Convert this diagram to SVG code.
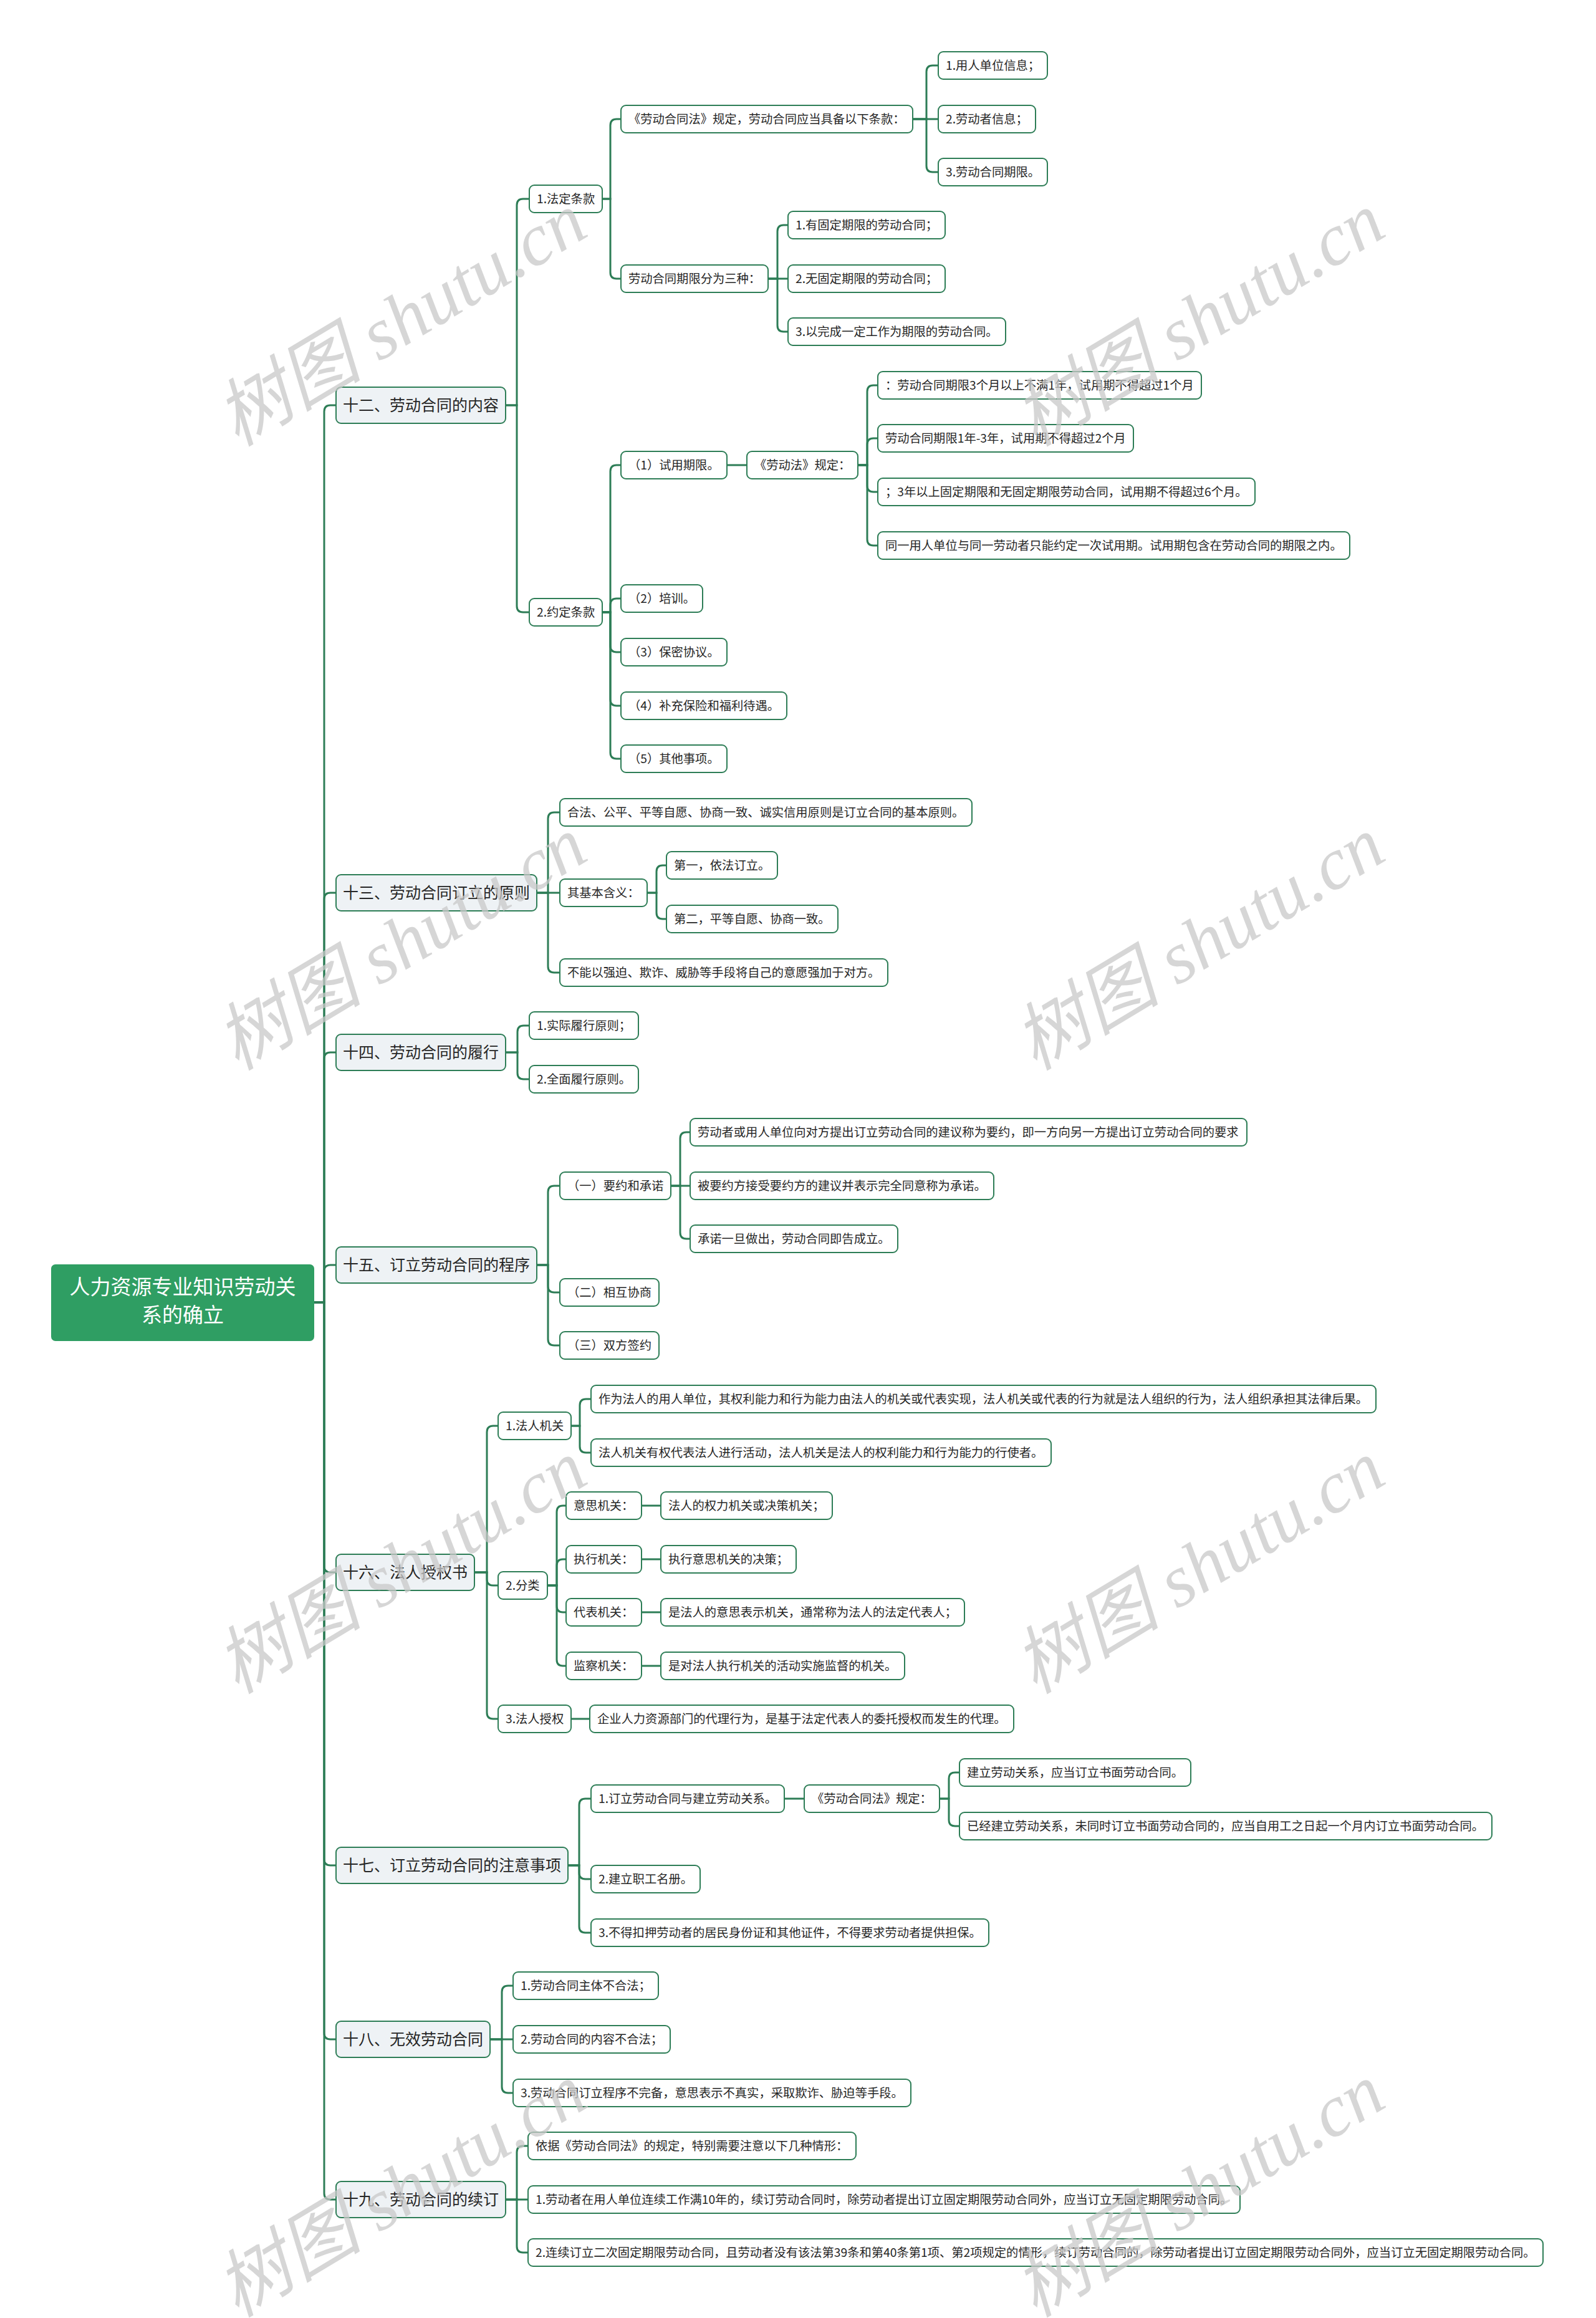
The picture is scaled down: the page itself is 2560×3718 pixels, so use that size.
<svg xmlns="http://www.w3.org/2000/svg" width="2560" height="3718" viewBox="0 0 2560 3718">
<style>
.nd rect{fill:#fff;stroke:#2d7d56;stroke-width:2}
.l1 rect{fill:#eef2f5}
.nd text{font-family:"Noto Sans CJK SC","Noto Sans",sans-serif;font-size:19.3px;fill:#262626}
.l1 text{font-size:25px}
.rt rect{fill:#2f9e63;stroke:#2f9e63;stroke-width:2}
.rt text{font-family:"Noto Sans CJK SC","Noto Sans",sans-serif;font-size:33px;fill:#fff;text-anchor:middle}
.cn path{fill:none;stroke:#2d7d56;stroke-width:3}
.wm{font-family:"Liberation Serif","Noto Sans CJK SC",serif;font-style:italic;font-size:118px;fill:#c8c8c8;fill-opacity:.75;text-anchor:middle}
</style>
<rect width="2560" height="3718" fill="#fff"/>
<g id="connectors" class="cn">
<path d="M503 2089H520V660Q520 650 530 650H539"/>
<path d="M503 2089H520V1442Q520 1432 530 1432H539"/>
<path d="M503 2089H520V1698Q520 1688 530 1688H539"/>
<path d="M503 2089H520V2039Q520 2029 530 2029H539"/>
<path d="M503 2089H520V2512Q520 2522 530 2522H539"/>
<path d="M503 2089H520V2982Q520 2992 530 2992H539"/>
<path d="M503 2089H520V3261Q520 3271 530 3271H539"/>
<path d="M503 2089H520V3518Q520 3528 530 3528H539"/>
<path d="M811 650H829V329Q829 319 839 319H849"/>
<path d="M811 650H829V972Q829 982 839 982H849"/>
<path d="M966 319H979V201Q979 191 989 191H996"/>
<path d="M966 319H979V437Q979 447 989 447H996"/>
<path d="M1464 191H1486V115Q1486 105 1496 105H1505"/>
<path d="M1464 191H1505"/>
<path d="M1464 191H1486V266Q1486 276 1496 276H1505"/>
<path d="M1232 447H1247V371Q1247 361 1257 361H1264"/>
<path d="M1232 447H1264"/>
<path d="M1232 447H1247V522Q1247 532 1257 532H1264"/>
<path d="M966 982H979V756Q979 746 989 746H996"/>
<path d="M966 982H979V970Q979 960 989 960H996"/>
<path d="M966 982H979V1036Q979 1046 989 1046H996"/>
<path d="M966 982H979V1122Q979 1132 989 1132H996"/>
<path d="M966 982H979V1207Q979 1217 989 1217H996"/>
<path d="M1166 746H1198"/>
<path d="M1376 746H1391V628Q1391 618 1401 618H1408"/>
<path d="M1376 746H1391V713Q1391 703 1401 703H1408"/>
<path d="M1376 746H1391V779Q1391 789 1401 789H1408"/>
<path d="M1376 746H1391V865Q1391 875 1401 875H1408"/>
<path d="M861 1432H879V1313Q879 1303 889 1303H898"/>
<path d="M861 1432H898"/>
<path d="M861 1432H879V1550Q879 1560 889 1560H898"/>
<path d="M1038 1432H1053V1398Q1053 1388 1063 1388H1069"/>
<path d="M1038 1432H1053V1464Q1053 1474 1063 1474H1069"/>
<path d="M811 1688H830V1655Q830 1645 840 1645H849"/>
<path d="M811 1688H830V1721Q830 1731 840 1731H849"/>
<path d="M861 2029H879V1912Q879 1902 889 1902H898"/>
<path d="M861 2029H879V2063Q879 2073 889 2073H898"/>
<path d="M861 2029H879V2148Q879 2158 889 2158H898"/>
<path d="M1076 1902H1091V1826Q1091 1816 1101 1816H1107"/>
<path d="M1076 1902H1107"/>
<path d="M1076 1902H1091V1977Q1091 1987 1101 1987H1107"/>
<path d="M761 2522H781V2297Q781 2287 791 2287H799"/>
<path d="M761 2522H781V2533Q781 2543 791 2543H799"/>
<path d="M761 2522H781V2747Q781 2757 791 2757H799"/>
<path d="M916 2287H930V2254Q930 2244 940 2244H948"/>
<path d="M916 2287H930V2320Q930 2330 940 2330H948"/>
<path d="M878 2543H893V2425Q893 2415 903 2415H908"/>
<path d="M878 2543H893V2511Q893 2501 903 2501H908"/>
<path d="M878 2543H893V2576Q893 2586 903 2586H908"/>
<path d="M878 2543H893V2662Q893 2672 903 2672H908"/>
<path d="M1029 2415H1060"/>
<path d="M1029 2501H1060"/>
<path d="M1029 2586H1060"/>
<path d="M1029 2672H1060"/>
<path d="M916 2757H946"/>
<path d="M911 2992H929V2895Q929 2885 939 2885H948"/>
<path d="M911 2992H929V3004Q929 3014 939 3014H948"/>
<path d="M911 2992H929V3090Q929 3100 939 3100H948"/>
<path d="M1258 2885H1290"/>
<path d="M1507 2885H1522V2853Q1522 2843 1532 2843H1539"/>
<path d="M1507 2885H1522V2919Q1522 2929 1532 2929H1539"/>
<path d="M786 3271H805V3195Q805 3185 815 3185H823"/>
<path d="M786 3271H823"/>
<path d="M786 3271H805V3347Q805 3357 815 3357H823"/>
<path d="M811 3528H829V3452Q829 3442 839 3442H847"/>
<path d="M811 3528H847"/>
<path d="M811 3528H829V3603Q829 3613 839 3613H847"/>
</g>
<g id="root" class="rt"><rect x="83" y="2029" width="420" height="121" rx="6"/><text x="293" y="2076">人力资源专业知识劳动关</text><text x="293" y="2121">系的确立</text></g>
<g id="n12" class="nd l1"><rect x="539" y="621" width="272" height="58" rx="8"/><text x="550" y="659">十二、劳动合同的内容</text></g>
<g id="n13" class="nd l1"><rect x="539" y="1403" width="322" height="58" rx="8"/><text x="550" y="1441">十三、劳动合同订立的原则</text></g>
<g id="n14" class="nd l1"><rect x="539" y="1659" width="272" height="58" rx="8"/><text x="550" y="1697">十四、劳动合同的履行</text></g>
<g id="n15" class="nd l1"><rect x="539" y="2000" width="322" height="58" rx="8"/><text x="550" y="2038">十五、订立劳动合同的程序</text></g>
<g id="n16" class="nd l1"><rect x="539" y="2493" width="222" height="58" rx="8"/><text x="550" y="2531">十六、法人授权书</text></g>
<g id="n17" class="nd l1"><rect x="539" y="2963" width="372" height="58" rx="8"/><text x="550" y="3001">十七、订立劳动合同的注意事项</text></g>
<g id="n18" class="nd l1"><rect x="539" y="3242" width="247" height="58" rx="8"/><text x="550" y="3280">十八、无效劳动合同</text></g>
<g id="n19" class="nd l1"><rect x="539" y="3499" width="272" height="58" rx="8"/><text x="550" y="3537">十九、劳动合同的续订</text></g>
<g id="a1" class="nd"><rect x="849" y="297" width="117" height="44" rx="8"/><text x="861" y="326">1.法定条款</text></g>
<g id="a1a" class="nd"><rect x="996" y="169" width="468" height="44" rx="8"/><text x="1008" y="198">《劳动合同法》规定，劳动合同应当具备以下条款：</text></g>
<g id="a1a1" class="nd"><rect x="1505" y="83" width="175" height="44" rx="8"/><text x="1517" y="112">1.用人单位信息；</text></g>
<g id="a1a2" class="nd"><rect x="1505" y="169" width="156" height="44" rx="8"/><text x="1517" y="198">2.劳动者信息；</text></g>
<g id="a1a3" class="nd"><rect x="1505" y="254" width="175" height="44" rx="8"/><text x="1517" y="283">3.劳动合同期限。</text></g>
<g id="a1b" class="nd"><rect x="996" y="425" width="236" height="44" rx="8"/><text x="1008" y="454">劳动合同期限分为三种：</text></g>
<g id="a1b1" class="nd"><rect x="1264" y="339" width="252" height="44" rx="8"/><text x="1276" y="368">1.有固定期限的劳动合同；</text></g>
<g id="a1b2" class="nd"><rect x="1264" y="425" width="252" height="44" rx="8"/><text x="1276" y="454">2.无固定期限的劳动合同；</text></g>
<g id="a1b3" class="nd"><rect x="1264" y="510" width="349" height="44" rx="8"/><text x="1276" y="539">3.以完成一定工作为期限的劳动合同。</text></g>
<g id="a2" class="nd"><rect x="849" y="960" width="117" height="44" rx="8"/><text x="861" y="989">2.约定条款</text></g>
<g id="a2a" class="nd"><rect x="996" y="724" width="170" height="44" rx="8"/><text x="1008" y="753">（1）试用期限。</text></g>
<g id="a2a1" class="nd"><rect x="1198" y="724" width="178" height="44" rx="8"/><text x="1210" y="753">《劳动法》规定：</text></g>
<g id="a2a1a" class="nd"><rect x="1408" y="596" width="519" height="44" rx="8"/><text x="1420" y="625">：劳动合同期限3个月以上不满1年，试用期不得超过1个月</text></g>
<g id="a2a1b" class="nd"><rect x="1408" y="681" width="410" height="44" rx="8"/><text x="1420" y="710">劳动合同期限1年-3年，试用期不得超过2个月</text></g>
<g id="a2a1c" class="nd"><rect x="1408" y="767" width="605" height="44" rx="8"/><text x="1420" y="796">；3年以上固定期限和无固定期限劳动合同，试用期不得超过6个月。</text></g>
<g id="a2a1d" class="nd"><rect x="1408" y="853" width="757" height="44" rx="8"/><text x="1420" y="882">同一用人单位与同一劳动者只能约定一次试用期。试用期包含在劳动合同的期限之内。</text></g>
<g id="a2b" class="nd"><rect x="996" y="938" width="131" height="44" rx="8"/><text x="1008" y="967">（2）培训。</text></g>
<g id="a2c" class="nd"><rect x="996" y="1024" width="170" height="44" rx="8"/><text x="1008" y="1053">（3）保密协议。</text></g>
<g id="a2d" class="nd"><rect x="996" y="1110" width="266" height="44" rx="8"/><text x="1008" y="1139">（4）补充保险和福利待遇。</text></g>
<g id="a2e" class="nd"><rect x="996" y="1195" width="170" height="44" rx="8"/><text x="1008" y="1224">（5）其他事项。</text></g>
<g id="b1" class="nd"><rect x="898" y="1281" width="661" height="44" rx="8"/><text x="910" y="1310">合法、公平、平等自愿、协商一致、诚实信用原则是订立合同的基本原则。</text></g>
<g id="b2" class="nd"><rect x="898" y="1410" width="140" height="44" rx="8"/><text x="910" y="1439">其基本含义：</text></g>
<g id="b2a" class="nd"><rect x="1069" y="1366" width="178" height="44" rx="8"/><text x="1081" y="1395">第一，依法订立。</text></g>
<g id="b2b" class="nd"><rect x="1069" y="1452" width="275" height="44" rx="8"/><text x="1081" y="1481">第二，平等自愿、协商一致。</text></g>
<g id="b3" class="nd"><rect x="898" y="1538" width="526" height="44" rx="8"/><text x="910" y="1567">不能以强迫、欺诈、威胁等手段将自己的意愿强加于对方。</text></g>
<g id="c1" class="nd"><rect x="849" y="1623" width="175" height="44" rx="8"/><text x="861" y="1652">1.实际履行原则；</text></g>
<g id="c2" class="nd"><rect x="849" y="1709" width="175" height="44" rx="8"/><text x="861" y="1738">2.全面履行原则。</text></g>
<g id="d1" class="nd"><rect x="898" y="1880" width="178" height="44" rx="8"/><text x="910" y="1909">（一）要约和承诺</text></g>
<g id="d1a" class="nd"><rect x="1107" y="1794" width="893" height="44" rx="8"/><text x="1119" y="1823">劳动者或用人单位向对方提出订立劳动合同的建议称为要约，即一方向另一方提出订立劳动合同的要求</text></g>
<g id="d1b" class="nd"><rect x="1107" y="1880" width="487" height="44" rx="8"/><text x="1119" y="1909">被要约方接受要约方的建议并表示完全同意称为承诺。</text></g>
<g id="d1c" class="nd"><rect x="1107" y="1965" width="333" height="44" rx="8"/><text x="1119" y="1994">承诺一旦做出，劳动合同即告成立。</text></g>
<g id="d2" class="nd"><rect x="898" y="2051" width="159" height="44" rx="8"/><text x="910" y="2080">（二）相互协商</text></g>
<g id="d3" class="nd"><rect x="898" y="2136" width="159" height="44" rx="8"/><text x="910" y="2165">（三）双方签约</text></g>
<g id="e1" class="nd"><rect x="799" y="2265" width="117" height="44" rx="8"/><text x="811" y="2294">1.法人机关</text></g>
<g id="e1a" class="nd"><rect x="948" y="2222" width="1259" height="44" rx="8"/><text x="960" y="2251">作为法人的用人单位，其权利能力和行为能力由法人的机关或代表实现，法人机关或代表的行为就是法人组织的行为，法人组织承担其法律后果。</text></g>
<g id="e1b" class="nd"><rect x="948" y="2308" width="738" height="44" rx="8"/><text x="960" y="2337">法人机关有权代表法人进行活动，法人机关是法人的权利能力和行为能力的行使者。</text></g>
<g id="e2" class="nd"><rect x="799" y="2521" width="79" height="44" rx="8"/><text x="811" y="2550">2.分类</text></g>
<g id="e2a" class="nd"><rect x="908" y="2393" width="121" height="44" rx="8"/><text x="920" y="2422">意思机关：</text></g>
<g id="e2a1" class="nd"><rect x="1060" y="2393" width="275" height="44" rx="8"/><text x="1072" y="2422">法人的权力机关或决策机关；</text></g>
<g id="e2b" class="nd"><rect x="908" y="2479" width="121" height="44" rx="8"/><text x="920" y="2508">执行机关：</text></g>
<g id="e2b1" class="nd"><rect x="1060" y="2479" width="217" height="44" rx="8"/><text x="1072" y="2508">执行意思机关的决策；</text></g>
<g id="e2c" class="nd"><rect x="908" y="2564" width="121" height="44" rx="8"/><text x="920" y="2593">代表机关：</text></g>
<g id="e2c1" class="nd"><rect x="1060" y="2564" width="487" height="44" rx="8"/><text x="1072" y="2593">是法人的意思表示机关，通常称为法人的法定代表人；</text></g>
<g id="e2d" class="nd"><rect x="908" y="2650" width="121" height="44" rx="8"/><text x="920" y="2679">监察机关：</text></g>
<g id="e2d1" class="nd"><rect x="1060" y="2650" width="391" height="44" rx="8"/><text x="1072" y="2679">是对法人执行机关的活动实施监督的机关。</text></g>
<g id="e3" class="nd"><rect x="799" y="2735" width="117" height="44" rx="8"/><text x="811" y="2764">3.法人授权</text></g>
<g id="e3a" class="nd"><rect x="946" y="2735" width="680" height="44" rx="8"/><text x="958" y="2764">企业人力资源部门的代理行为，是基于法定代表人的委托授权而发生的代理。</text></g>
<g id="f1" class="nd"><rect x="948" y="2863" width="310" height="44" rx="8"/><text x="960" y="2892">1.订立劳动合同与建立劳动关系。</text></g>
<g id="f1a" class="nd"><rect x="1290" y="2863" width="217" height="44" rx="8"/><text x="1302" y="2892">《劳动合同法》规定：</text></g>
<g id="f1a1" class="nd"><rect x="1539" y="2821" width="371" height="44" rx="8"/><text x="1551" y="2850">建立劳动关系，应当订立书面劳动合同。</text></g>
<g id="f1a2" class="nd"><rect x="1539" y="2907" width="854" height="44" rx="8"/><text x="1551" y="2936">已经建立劳动关系，未同时订立书面劳动合同的，应当自用工之日起一个月内订立书面劳动合同。</text></g>
<g id="f2" class="nd"><rect x="948" y="2992" width="175" height="44" rx="8"/><text x="960" y="3021">2.建立职工名册。</text></g>
<g id="f3" class="nd"><rect x="948" y="3078" width="638" height="44" rx="8"/><text x="960" y="3107">3.不得扣押劳动者的居民身份证和其他证件，不得要求劳动者提供担保。</text></g>
<g id="g1" class="nd"><rect x="823" y="3163" width="233" height="44" rx="8"/><text x="835" y="3192">1.劳动合同主体不合法；</text></g>
<g id="g2" class="nd"><rect x="823" y="3249" width="252" height="44" rx="8"/><text x="835" y="3278">2.劳动合同的内容不合法；</text></g>
<g id="g3" class="nd"><rect x="823" y="3335" width="638" height="44" rx="8"/><text x="835" y="3364">3.劳动合同订立程序不完备，意思表示不真实，采取欺诈、胁迫等手段。</text></g>
<g id="h1" class="nd"><rect x="847" y="3420" width="526" height="44" rx="8"/><text x="859" y="3449">依据《劳动合同法》的规定，特别需要注意以下几种情形：</text></g>
<g id="h2" class="nd"><rect x="847" y="3506" width="1142" height="44" rx="8"/><text x="859" y="3535">1.劳动者在用人单位连续工作满10年的，续订劳动合同时，除劳动者提出订立固定期限劳动合同外，应当订立无固定期限劳动合同。</text></g>
<g id="h3" class="nd"><rect x="847" y="3591" width="1628" height="44" rx="8"/><text x="859" y="3620">2.连续订立二次固定期限劳动合同，且劳动者没有该法第39条和第40条第1项、第2项规定的情形，续订劳动合同的，除劳动者提出订立固定期限劳动合同外，应当订立无固定期限劳动合同。</text></g>
<g id="watermarks">
<text class="wm" x="645" y="552" transform="rotate(-31 645 515)">树图 shutu.cn</text>
<text class="wm" x="1925" y="552" transform="rotate(-31 1925 515)">树图 shutu.cn</text>
<text class="wm" x="645" y="1553" transform="rotate(-31 645 1516)">树图 shutu.cn</text>
<text class="wm" x="1925" y="1553" transform="rotate(-31 1925 1516)">树图 shutu.cn</text>
<text class="wm" x="645" y="2553" transform="rotate(-31 645 2516)">树图 shutu.cn</text>
<text class="wm" x="1925" y="2553" transform="rotate(-31 1925 2516)">树图 shutu.cn</text>
<text class="wm" x="645" y="3553" transform="rotate(-31 645 3516)">树图 shutu.cn</text>
<text class="wm" x="1925" y="3553" transform="rotate(-31 1925 3516)">树图 shutu.cn</text>
</g>
</svg>
